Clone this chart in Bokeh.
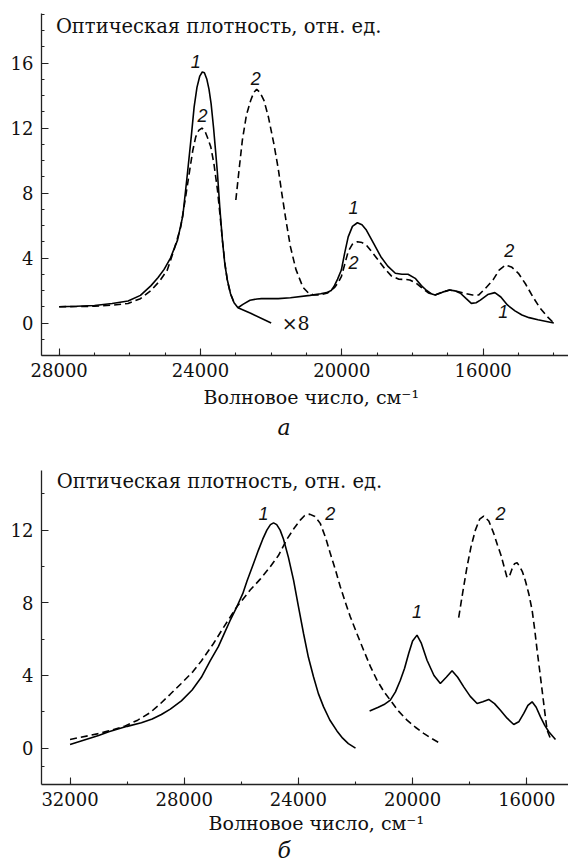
from bokeh.plotting import figure
from bokeh.models import Range1d, FixedTicker, Label, Title
from bokeh.layouts import column
from bokeh.embed import file_html
from bokeh.resources import INLINE

# ---------------- panel a ----------------
a_x_ticks = [28000, 24000, 20000, 16000]
a_y_ticks = [0, 4, 8, 12, 16]

a1_main_x = [28000, 27500, 27000, 26500, 26050, 25700, 25400, 25200, 25030, 24850, 24650, 24500, 24370, 24260,
             24180, 24100, 24020, 23950, 23890, 23820, 23760, 23700, 23630, 23570, 23520, 23450, 23380, 23310,
             23240, 23150, 23050, 22940, 22580, 22000]
a1_main_y = [1.0, 1.03, 1.08, 1.2, 1.35, 1.7, 2.3, 2.8, 3.3, 4.0, 5.1, 6.6, 9.2, 11.5,
             13.3, 14.5, 15.2, 15.45, 15.4, 15.0, 14.4, 13.5, 12.0, 10.5, 9.2, 7.0, 5.1, 3.6,
             2.65, 1.8, 1.25, 0.94, 0.6, 0.0]

a2_main_x = [28000, 27000, 26500, 26050, 25700, 25400, 25150, 24940, 24750, 24560, 24440, 24320, 24220, 24135,
             24050, 23960, 23880, 23800, 23710, 23620, 23520, 23450, 23380, 23310, 23240, 23150, 23050]
a2_main_y = [1.0, 1.03, 1.1, 1.2, 1.5, 2.0, 2.6, 3.26, 4.5, 5.9, 7.5, 9.2, 10.6, 11.46,
             11.85, 12.0, 11.85, 11.4, 10.85, 9.8, 8.2, 6.7, 5.1, 3.7, 2.6, 1.8, 1.25]

a1_x8_x = [22940, 22800, 22600, 22400, 22275, 21800, 21455, 20900, 20600, 20431, 20300, 20227, 20120, 20014,
           19920, 19820, 19700, 19560, 19430, 19306, 19100, 18896, 18700, 18486, 18300, 18127, 17923, 17750,
           17600, 17450, 17360, 17150, 16950, 16800, 16643, 16480, 16335, 16200, 16080, 15870, 15670, 15500,
           15314, 15100, 14902, 14700, 14450, 14000]
a1_x8_y = [0.94, 1.15, 1.4, 1.48, 1.5, 1.5, 1.55, 1.7, 1.8, 1.87, 2.0, 2.23, 2.7, 3.26,
           4.3, 5.3, 5.95, 6.17, 6.05, 5.72, 4.9, 4.08, 3.5, 3.06, 3.0, 3.0, 2.75, 2.3,
           2.0, 1.78, 1.72, 1.9, 2.03, 1.98, 1.83, 1.5, 1.21, 1.25, 1.41, 1.75, 1.87, 1.6,
           1.11, 0.75, 0.49, 0.33, 0.2, 0.0]

a2_x8_x = [23000, 22900, 22815, 22700, 22580, 22490, 22410, 22320, 22204, 22080, 21921, 21800, 21700, 21580,
           21455, 21300, 21100, 20940, 20800, 20640, 20400, 20200, 20100, 20014, 19920, 19820, 19700, 19560,
           19430, 19306, 19050, 18795, 18600, 18385, 18200, 18077, 17900, 17770, 17550, 17360, 17150, 16950,
           16750, 16540, 16300, 16130, 15950, 15720, 15550, 15363, 15200, 15003, 14800, 14595, 14400, 14185,
           14000]
a2_x8_y = [7.57, 9.6, 11.26, 12.8, 13.7, 14.2, 14.38, 14.2, 13.7, 12.7, 11.0, 9.5, 8.0, 6.3,
           4.7, 3.3, 2.2, 1.83, 1.73, 1.72, 1.85, 2.2, 2.5, 2.85, 3.6, 4.4, 4.85, 5.0,
           4.95, 4.8, 4.1, 3.37, 2.9, 2.69, 2.68, 2.65, 2.45, 2.23, 1.85, 1.72, 1.9, 2.03,
           1.95, 1.83, 1.72, 1.72, 2.1, 2.65, 3.25, 3.57, 3.45, 3.06, 2.4, 1.62, 0.95, 0.39,
           0.0]

a_tags = ["1", "2", "2", "1", "2", "2", "1"]
a_tag_x = [24135, 23946, 22439, 19668, 19668, 15259, 15428]
a_tag_y = [16.08, 12.8, 15.08, 7.08, 3.75, 4.49, 0.68]

# ---------------- panel б ----------------
b_x_ticks = [32000, 28000, 24000, 20000, 16000]
b_y_ticks = [0, 4, 8, 12]

b1_main_x = [32000, 31500, 31000, 30643, 30000, 29500, 29121, 28800, 28487, 28100, 27723, 27400, 27092, 26800,
             26600, 26400, 26157, 25950, 25800, 25572, 25400, 25250, 25105, 24980, 24870, 24760, 24640, 24521,
             24350, 24170, 24000, 23820, 23650, 23469, 23300, 23118, 22900, 22650, 22450, 22250, 22000]
b1_main_y = [0.2, 0.45, 0.7, 0.9, 1.2, 1.4, 1.6, 1.85, 2.15, 2.6, 3.2, 3.9, 4.8, 5.6,
             6.3, 7.0, 7.78, 8.5, 9.2, 10.16, 10.9, 11.5, 12.0, 12.3, 12.4, 12.3, 12.0, 11.5,
             10.5, 9.25, 7.8, 6.31, 5.0, 3.92, 3.0, 2.27, 1.55, 0.95, 0.55, 0.25, 0.0]

b2_main_x = [32000, 31000, 30643, 30100, 29630, 29200, 28865, 28500, 28104, 27700, 27400, 26975, 26600, 26157,
             25690, 25338, 24987, 24700, 24402, 24150, 23936, 23780, 23609, 23420, 23235, 23050, 22884, 22700,
             22533, 22350, 22182, 21950, 21715, 21480, 21247, 21000, 20780, 20500, 20195, 19900, 19611, 19300,
             19027]
b2_main_y = [0.48, 0.8, 0.95, 1.2, 1.54, 1.95, 2.4, 2.95, 3.56, 4.2, 4.8, 5.76, 6.7, 7.78,
             8.7, 9.3, 9.98, 10.6, 11.5, 12.1, 12.55, 12.8, 12.88, 12.75, 12.37, 11.6, 10.72, 9.8,
             8.88, 8.0, 7.23, 6.3, 5.39, 4.5, 3.74, 3.1, 2.64, 2.05, 1.54, 1.15, 0.81, 0.5,
             0.26]

b1_sec_x = [21505, 21200, 21000, 20780, 20600, 20429, 20280, 20137, 20000, 19845, 19700, 19494, 19250, 19027,
            18820, 18617, 18420, 18208, 17980, 17740, 17540, 17333, 17130, 16923, 16690, 16456, 16280, 16105,
            15960, 15813, 15670, 15520, 15370, 15228, 14994]
b1_sec_y = [2.05, 2.25, 2.4, 2.64, 3.1, 3.74, 4.4, 5.21, 5.9, 6.22, 5.8, 4.84, 4.0, 3.56,
            3.9, 4.26, 3.9, 3.37, 2.85, 2.46, 2.55, 2.68, 2.45, 2.09, 1.65, 1.30, 1.45, 1.91,
            2.35, 2.55, 2.25, 1.72, 1.25, 0.9, 0.48]

b2_sec_x = [18385, 18240, 18093, 17950, 17800, 17650, 17508, 17330, 17158, 17030, 16900, 16780, 16690, 16600,
            16520, 16430, 16339, 16250, 16150, 16047, 15930, 15813, 15720, 15638, 15550, 15463, 15370, 15287,
            15170]
b2_sec_y = [7.19, 8.6, 9.98, 11.1, 12.0, 12.6, 12.77, 12.5, 11.82, 11.2, 10.6, 9.9, 9.39, 9.5,
            9.85, 10.15, 10.2, 10.0, 9.7, 9.2, 8.5, 7.6, 6.5, 5.39, 4.3, 3.19, 2.0, 0.99,
            0.53]

b_tags = ["1", "2", "1", "2"]
b_tag_x = [25222, 22884, 19845, 16923]
b_tag_y = [12.92, 12.92, 7.5, 12.92]

ylabel = "Оптическая плотность, отн. ед."
xlabel = "Волновое число, см⁻¹"

SERIF = "DejaVu Serif"
DASH = "7 4"


def make_fig(height, xr, yr, top, bottom, xt, xminor, yt, yminor):
    p = figure(width=568, height=height, x_range=Range1d(*xr), y_range=Range1d(*yr),
               output_backend="svg", toolbar_location=None,
               min_border_left=41, min_border_right=0, min_border_top=top, min_border_bottom=bottom)
    p.outline_line_color = None
    p.xgrid.visible = False
    p.ygrid.visible = False
    p.background_fill_color = "white"
    p.border_fill_color = "white"
    p.xaxis.ticker = FixedTicker(ticks=xt, minor_ticks=xminor)
    p.yaxis.ticker = FixedTicker(ticks=yt, minor_ticks=yminor)
    for ax in (p.xaxis[0], p.yaxis[0]):
        ax.major_tick_in = 7
        ax.major_tick_out = 0
        ax.minor_tick_in = 3
        ax.minor_tick_out = 0
        ax.axis_line_width = 1.3
        ax.major_tick_line_width = 1.1
        ax.minor_tick_line_width = 1.1
        ax.axis_line_color = "#222222"
        ax.major_tick_line_color = "#222222"
        ax.minor_tick_line_color = "#222222"
        ax.major_label_text_font = SERIF
        ax.major_label_text_font_size = "18px"
        ax.major_label_text_color = "#111111"
    p.xaxis.major_label_standoff = 7
    p.yaxis.major_label_standoff = 8
    return p


def add_text(p, x, y, t, size, style="normal", font=SERIF, align="left", baseline="middle"):
    p.add_layout(Label(x=x, y=y, text=t, text_font=font, text_font_size=size, text_font_style=style,
                       text_align=align, text_baseline=baseline, text_color="#111111"))


def add_below(p, text, offset, size, style, standoff):
    p.add_layout(Title(text=text, align="left", offset=offset, text_font=SERIF, text_font_size=size,
                       text_font_style=style, text_color="#111111", standoff=standoff), "below")


# ---- figure a
pa = make_fig(440, (28500, 13585), (-2, 19.05), 13, 85,
              a_x_ticks, list(range(14000, 29000, 1000)),
              a_y_ticks, list(range(-2, 20)))
lw = 1.6
pa.line(a1_main_x, a1_main_y, line_color="black", line_width=lw)
pa.line(a1_x8_x, a1_x8_y, line_color="black", line_width=lw)
pa.line(a2_main_x, a2_main_y, line_color="black", line_width=lw, line_dash=DASH)
pa.line(a2_x8_x, a2_x8_y, line_color="black", line_width=lw, line_dash=DASH)
for t, x, y in zip(a_tags, a_tag_x, a_tag_y):
    add_text(pa, x, y, t, "18px", "italic", "Liberation Sans", "center")
add_text(pa, 21703, 0, "×8", "19px")
add_text(pa, 28093, 18.28, ylabel, "19.5px")
add_below(pa, xlabel, 162, "19px", "normal", 9)
add_below(pa, "а", 236, "22px", "italic", 0)

# ---- figure б
pb = make_fig(423, (33000, 14538), (-2, 15.28), 30, 79,
              b_x_ticks, list(range(16000, 33000, 2000)),
              b_y_ticks, [-1] + list(range(2, 16, 2)))
pb.line(b1_main_x, b1_main_y, line_color="black", line_width=lw)
pb.line(b1_sec_x, b1_sec_y, line_color="black", line_width=lw)
pb.line(b2_main_x, b2_main_y, line_color="black", line_width=lw, line_dash=DASH)
pb.line(b2_sec_x, b2_sec_y, line_color="black", line_width=lw, line_dash=DASH)
for t, x, y in zip(b_tags, b_tag_x, b_tag_y):
    add_text(pb, x, y, t, "18px", "italic", "Liberation Sans", "center")
add_text(pb, 32466, 14.7, ylabel, "19.5px")
add_below(pb, xlabel, 167, "19px", "normal", 3)
add_below(pb, "б", 236, "22px", "italic", 0)

layout = column(pa, pb, spacing=0)
open("out.html", "w").write(file_html(layout, INLINE))
